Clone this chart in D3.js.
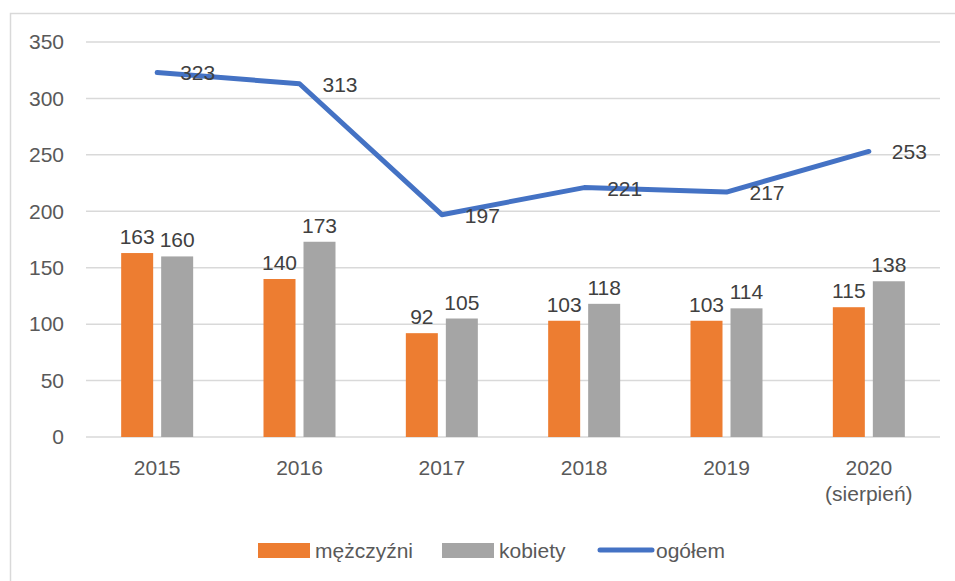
<!DOCTYPE html>
<html lang="pl">
<head>
<meta charset="utf-8">
<title>Wykres</title>
<script src="https://cdn.jsdelivr.net/npm/d3@7"></script>
<style>
  body { margin: 0; background: #fff; }
  svg text { font-family: "Liberation Sans", Arial, sans-serif; }
  .tick text { fill: #595959; font-size: 21px; }
  .lbl { fill: #404040; font-size: 21px; }
  .leg text { fill: #595959; font-size: 21px; }
</style>
</head>
<body>
<svg width="955" height="581"></svg>
<script>
var years = ["2015", "2016", "2017", "2018", "2019", "2020"];
var yearLines = [["2015"], ["2016"], ["2017"], ["2018"], ["2019"], ["2020", "(sierpień)"]];
var men = [163, 140, 92, 103, 103, 115];
var women = [160, 173, 105, 118, 114, 138];
var total = [323, 313, 197, 221, 217, 253];
var yTicks = [0, 50, 100, 150, 200, 250, 300, 350];

var svg = d3.select("svg");

// chart frame
svg.append("rect")
   .attr("x", 10.5).attr("y", 13.5)
   .attr("width", 960).attr("height", 600)
   .attr("fill", "none").attr("stroke", "#d9d9d9").attr("stroke-width", 1.5);

var x = d3.scaleBand().domain(years).range([86, 940]);
var y = d3.scaleLinear().domain([0, 350]).range([437, 42]);

// grid
svg.append("g").selectAll("line").data(yTicks).enter().append("line")
   .attr("x1", 86).attr("x2", 940)
   .attr("y1", function(d) { return y(d); }).attr("y2", function(d) { return y(d); })
   .attr("stroke", "#d9d9d9").attr("stroke-width", 1.5);

var yAxis = svg.append("g").attr("transform", "translate(86,0)")
   .call(d3.axisLeft(y).tickValues(yTicks).tickSize(0).tickPadding(22));
yAxis.select(".domain").remove();

var xAxis = svg.append("g").attr("transform", "translate(0,437)")
   .call(d3.axisBottom(x).tickSize(0).tickFormat(""));
xAxis.select(".domain").remove();
xAxis.selectAll(".tick").append("text")
   .attr("fill", "#595959").attr("text-anchor", "middle")
   .attr("y", 38)
   .selectAll("tspan")
   .data(function(d, i) { return yearLines[i]; })
   .enter().append("tspan")
   .attr("x", 0).attr("dy", function(d, i) { return i ? 26 : 0; })
   .text(function(d) { return d; });

var bw = 32, off = 20;
function cx(d, i) { return x(years[i]) + x.bandwidth() / 2; }

var series = [
  {vals: men, color: "#ED7D31", dx: -off},
  {vals: women, color: "#A5A5A5", dx: off}
];
series.forEach(function(s) {
  var g = svg.append("g");
  g.selectAll("rect").data(s.vals).enter().append("rect")
   .attr("x", function(d, i) { return cx(d, i) + s.dx - bw / 2; })
   .attr("y", function(d) { return y(d); })
   .attr("width", bw)
   .attr("height", function(d) { return y(0) - y(d); })
   .attr("fill", s.color);
  g.selectAll("text").data(s.vals).enter().append("text")
   .attr("class", "lbl").attr("text-anchor", "middle")
   .attr("x", function(d, i) { return cx(d, i) + s.dx; })
   .attr("y", function(d) { return y(d) - 9; })
   .text(function(d) { return d; });
});

var line = d3.line()
   .x(function(d, i) { return cx(d, i); })
   .y(function(d) { return y(d); });
svg.append("path").datum(total)
   .attr("d", line).attr("fill", "none")
   .attr("stroke", "#4472C4").attr("stroke-width", 5)
   .attr("stroke-linecap", "round").attr("stroke-linejoin", "round");
svg.append("g").selectAll("text").data(total).enter().append("text")
   .attr("class", "lbl")
   .attr("x", function(d, i) { return cx(d, i) + 23; })
   .attr("y", function(d) { return y(d) + 8; })
   .text(function(d) { return d; });

// legend
var leg = svg.append("g").attr("class", "leg");
leg.append("rect").attr("x", 258).attr("y", 543).attr("width", 52).attr("height", 15).attr("fill", "#ED7D31");
leg.append("text").attr("x", 315).attr("y", 558).text("mężczyźni");
leg.append("rect").attr("x", 442).attr("y", 543).attr("width", 52).attr("height", 15).attr("fill", "#A5A5A5");
leg.append("text").attr("x", 499).attr("y", 558).text("kobiety");
leg.append("line").attr("x1", 600).attr("x2", 652).attr("y1", 550).attr("y2", 550)
   .attr("stroke", "#4472C4").attr("stroke-width", 5).attr("stroke-linecap", "round");
leg.append("text").attr("x", 656).attr("y", 558).text("ogółem");
</script>
</body>
</html>
